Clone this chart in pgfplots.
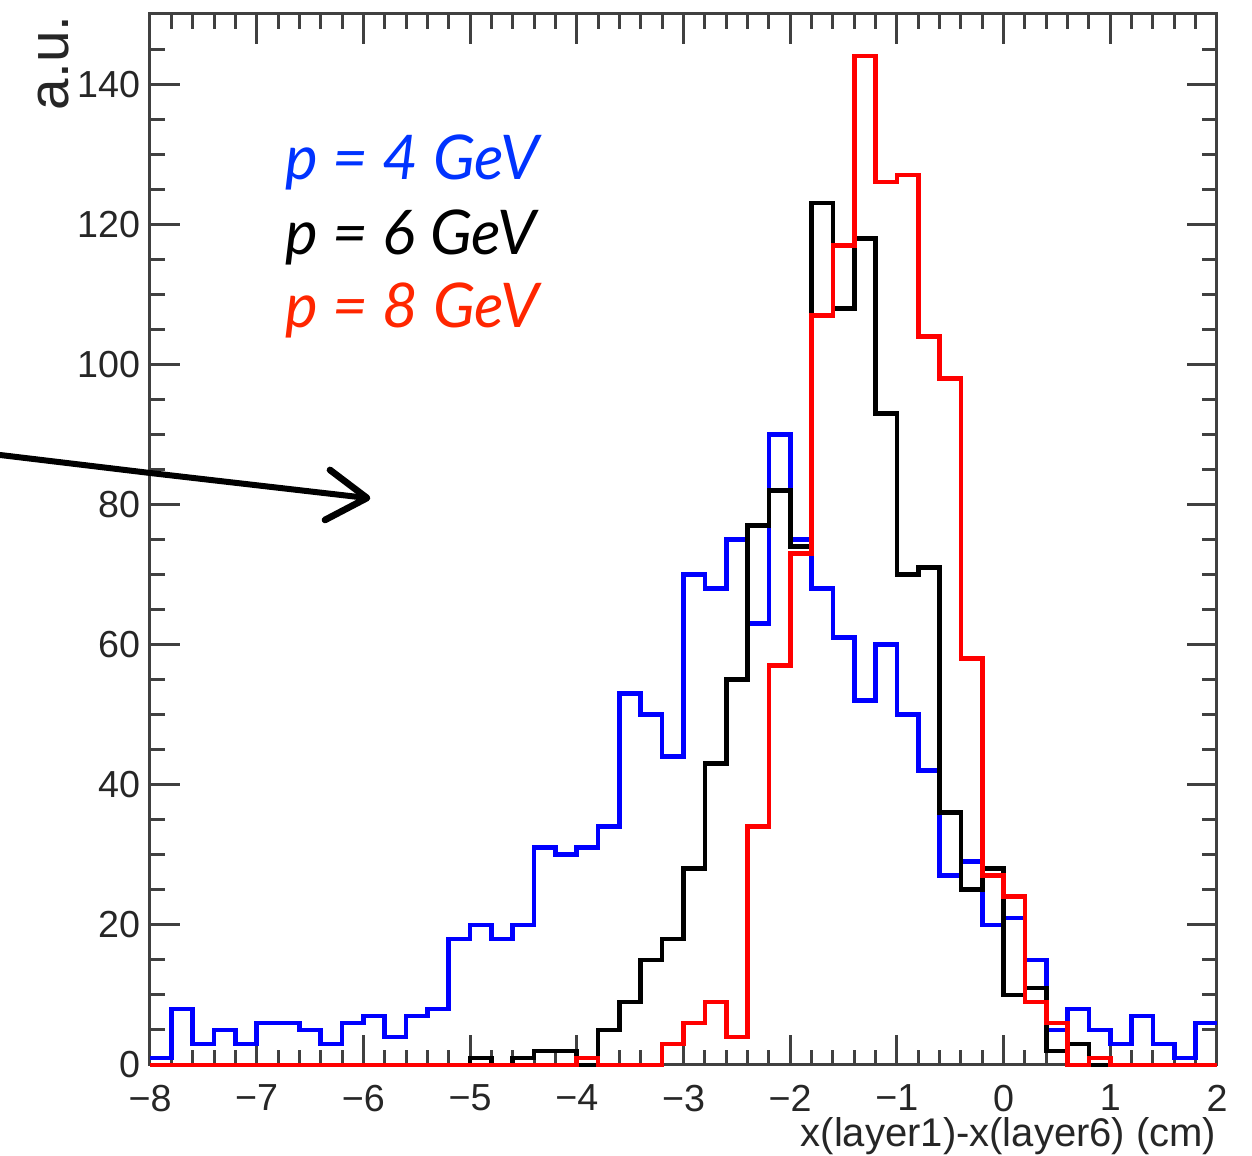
\documentclass[border=0pt]{standalone}
\usepackage{pgfplots}
\usepackage{pgfplotstable}
\pgfplotsset{compat=1.18}
\usepackage{fontspec}
\setmainfont{Liberation Sans}
\newfontfamily\legfont{Lato}
\definecolor{legblue}{RGB}{0,51,255}
\definecolor{legred}{RGB}{255,38,0}
\definecolor{hblue}{RGB}{0,0,255}
\definecolor{hred}{RGB}{255,0,0}

% left bin edges (bin width 0.2); last row repeats the final bin at x=2
\pgfplotstableread{
x     pfour psix  peight
-8.0  1     0     0
-7.8  8     0     0
-7.6  3     0     0
-7.4  5     0     0
-7.2  3     0     0
-7.0  6     0     0
-6.8  6     0     0
-6.6  5     0     0
-6.4  3     0     0
-6.2  6     0     0
-6.0  7     0     0
-5.8  4     0     0
-5.6  7     0     0
-5.4  8     0     0
-5.2  18    0     0
-5.0  20    1     0
-4.8  18    0     0
-4.6  20    1     0
-4.4  31    2     0
-4.2  30    2     0
-4.0  31    0     1
-3.8  34    5     0
-3.6  53    9     0
-3.4  50    15    0
-3.2  44    18    3
-3.0  70    28    6
-2.8  68    43    9
-2.6  75    55    4
-2.4  63    77    34
-2.2  90    82    57
-2.0  75    74    73
-1.8  68    123   107
-1.6  61    108   117
-1.4  52    118   144
-1.2  60    93    126
-1.0  50    70    127
-0.8  42    71    104
-0.6  27    36    98
-0.4  29    25    58
-0.2  20    28    27
0.0   21    10    24
0.2   15    11    9
0.4   5     2     6
0.6   8     3     0
0.8   5     0     1
1.0   3     0     0
1.2   7     0     0
1.4   3     0     0
1.6   1     0     0
1.8   6     0     0
2.0   6     0     0
}\histdata

\begin{document}
\begin{tikzpicture}
\useasboundingbox (-45pt,-27.3pt) rectangle (330.6pt,319.5pt);
\begin{axis}[
  scale only axis,
  width=320.1pt, height=315.3pt,
  xmin=-8, xmax=2, ymin=0, ymax=150,
  clip=false,
  axis line style={black!75, line width=0.9pt},
  every tick/.style={black!75, line width=0.9pt},
  tick align=inside,
  major tick length=9pt, minor tick length=4.5pt,
  xtick={-8,-7,-6,-5,-4,-3,-2,-1,0,1,2},
  xticklabels={−8,−7,−6,−5,−4,−3,−2,−1,0,1,2},
  minor xtick={-7.8,-7.6,-7.4,-7.2,-6.8,-6.6,-6.4,-6.2,-5.8,-5.6,-5.4,-5.2,-4.8,-4.6,-4.4,-4.2,-3.8,-3.6,-3.4,-3.2,-2.8,-2.6,-2.4,-2.2,-1.8,-1.6,-1.4,-1.2,-0.8,-0.6,-0.4,-0.2,0.2,0.4,0.6,0.8,1.2,1.4,1.6,1.8},
  ytick={0,20,40,60,80,100,120,140},
  minor ytick={5,10,15,25,30,35,45,50,55,65,70,75,85,90,95,105,110,115,125,130,135,145},
  tick label style={font=\fontsize{11.3}{13}\selectfont, text=black!85, inner sep=0pt},
  xticklabel style={yshift=-5.8pt},
  yticklabel style={xshift=-2.8pt},
  /pgf/number format/assume math mode=true,
  xlabel={x(layer1)-x(layer6) (cm)},
  xlabel style={at={(rel axis cs:1,0)}, anchor=base east, yshift=-24.4pt,
    font=\fontsize{12}{14}\selectfont, text=black!85, inner sep=0pt},
]
\addplot[const plot, hblue, line width=1.4pt] table[x=x, y=pfour] {\histdata};
\addplot[const plot, black, line width=1.4pt] table[x=x, y=psix] {\histdata};
\addplot[const plot, hred, line width=1.4pt] table[x=x, y=peight] {\histdata};
\end{axis}
\node[rotate=90, anchor=base east, inner sep=0pt, font=\fontsize{17}{19}\selectfont, text=black!85] at (-24.3pt,315pt) {a.u.};
\begin{scope}[font=\legfont\itshape\fontsize{18.5}{20}\selectfont]
\node[anchor=base west, inner sep=0pt, text=legblue] at (40.5pt,265.5pt) {p = 4 GeV};
\node[anchor=base west, inner sep=0pt, text=black] at (40.5pt,243pt) {p = 6 GeV};
\node[anchor=base west, inner sep=0pt, text=legred] at (40.5pt,221.1pt) {p = 8 GeV};
\end{scope}
% hand-drawn annotation arrow
\draw[line width=1.8pt, line cap=round, line join=round] (-45pt,183pt) -- (0pt,177.6pt) -- (65.1pt,170.1pt);
\draw[line width=2pt, line cap=round, line join=round] (54pt,178.5pt) -- (65.1pt,170.1pt) -- (52.5pt,163.5pt);
\end{tikzpicture}
\end{document}
